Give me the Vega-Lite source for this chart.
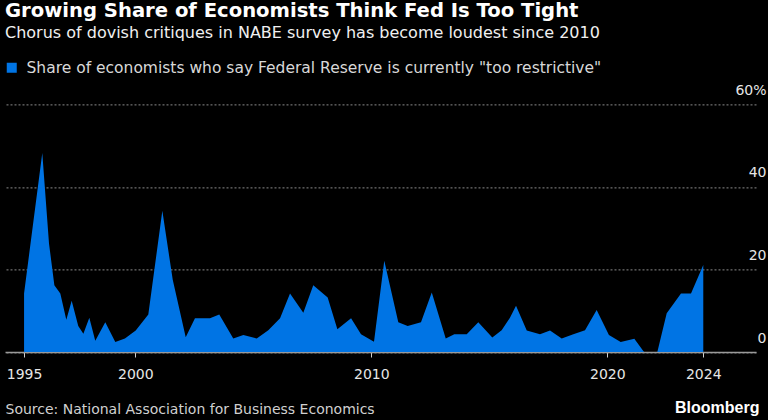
{
  "$schema": "https://vega.github.io/schema/vega-lite/v6.json",
  "autosize": {"type": "none"},
  "width": 751,
  "height": 247.6,
  "padding": {"left": 5, "right": 12, "top": 104.4, "bottom": 68},
  "background": "#000000",
  "config": {"view": {"stroke": null}, "font": "DejaVu Sans"},
  "title": {
    "text": "Growing Share of Economists Think Fed Is Too Tight",
    "subtitle": "Chorus of dovish critiques in NABE survey has become loudest since 2010",
    "anchor": "start",
    "frame": "group",
    "font": "DejaVu Sans",
    "fontSize": 19.6,
    "fontWeight": "bold",
    "color": "#ffffff",
    "subtitleFont": "DejaVu Sans",
    "subtitleFontSize": 16,
    "subtitleColor": "#f0f0f0",
    "subtitlePadding": 3,
    "offset": 18
  },
  "data": {
    "values": [
      {"date": "1995-04-15", "share": 14.2},
      {"date": "1996-01-22", "share": 48.2},
      {"date": "1996-05-05", "share": 26.3},
      {"date": "1996-07-27", "share": 16.2},
      {"date": "1996-10-27", "share": 14.2},
      {"date": "1997-01-28", "share": 7.8},
      {"date": "1997-04-21", "share": 12.4},
      {"date": "1997-08-01", "share": 6.3},
      {"date": "1997-10-19", "share": 4.4},
      {"date": "1998-01-19", "share": 8.3},
      {"date": "1998-04-21", "share": 2.7},
      {"date": "1998-09-23", "share": 7.2},
      {"date": "1999-02-25", "share": 2.4},
      {"date": "1999-07-24", "share": 3.3},
      {"date": "2000-01-07", "share": 5.2},
      {"date": "2000-07-20", "share": 9.1},
      {"date": "2001-02-22", "share": 34.2},
      {"date": "2001-08-02", "share": 17.5},
      {"date": "2002-02-19", "share": 3.6},
      {"date": "2002-07-12", "share": 8.2},
      {"date": "2003-03-01", "share": 8.2},
      {"date": "2003-07-23", "share": 9.1},
      {"date": "2004-02-25", "share": 3.3},
      {"date": "2004-07-30", "share": 4.1},
      {"date": "2005-02-22", "share": 3.3},
      {"date": "2005-08-20", "share": 5.3},
      {"date": "2006-02-18", "share": 8.2},
      {"date": "2006-07-22", "share": 14.2},
      {"date": "2007-02-13", "share": 9.5},
      {"date": "2007-07-17", "share": 16.2},
      {"date": "2008-02-25", "share": 13.2},
      {"date": "2008-07-24", "share": 5.5},
      {"date": "2009-02-21", "share": 8.2},
      {"date": "2009-07-25", "share": 4.3},
      {"date": "2010-02-11", "share": 2.5},
      {"date": "2010-07-20", "share": 22.1},
      {"date": "2011-02-22", "share": 7.2},
      {"date": "2011-07-17", "share": 6.3},
      {"date": "2012-02-08", "share": 7.2},
      {"date": "2012-07-24", "share": 14.4},
      {"date": "2013-02-25", "share": 3.3},
      {"date": "2013-07-08", "share": 4.3},
      {"date": "2014-01-16", "share": 4.3},
      {"date": "2014-07-14", "share": 7.2},
      {"date": "2015-02-16", "share": 3.5},
      {"date": "2015-07-10", "share": 5.3},
      {"date": "2015-11-16", "share": 8.3},
      {"date": "2016-02-18", "share": 11.2},
      {"date": "2016-08-02", "share": 5.2},
      {"date": "2017-02-23", "share": 4.3},
      {"date": "2017-07-28", "share": 5.2},
      {"date": "2018-01-25", "share": 3.3},
      {"date": "2018-07-24", "share": 4.3},
      {"date": "2019-01-21", "share": 5.3},
      {"date": "2019-07-20", "share": 10.2},
      {"date": "2020-01-26", "share": 4.1},
      {"date": "2020-07-26", "share": 2.4},
      {"date": "2021-02-22", "share": 3.2},
      {"date": "2021-07-22", "share": 0},
      {"date": "2022-02-13", "share": 0},
      {"date": "2022-07-08", "share": 9.4},
      {"date": "2023-02-14", "share": 14.2},
      {"date": "2023-07-19", "share": 14.2},
      {"date": "2024-01-25", "share": 21.1}
    ]
  },
  "mark": {"type": "area", "interpolate": "linear"},
  "encoding": {
    "x": {
      "field": "date",
      "type": "temporal",
      "scale": {"domain": [{"year": 1994, "month": 6, "date": 24}, {"year": 2026, "month": 4, "date": 20}]},
      "axis": {
        "values": [
          {"year": 1995, "month": 4, "date": 15},
          {"year": 2000, "month": 1, "date": 1},
          {"year": 2010, "month": 1, "date": 1},
          {"year": 2020, "month": 1, "date": 1},
          {"year": 2024, "month": 1, "date": 25}
        ],
        "format": "%Y",
        "grid": false,
        "domainColor": "#9a9a9a",
        "domainWidth": 1.5,
        "tickColor": "#cfcfcf",
        "tickSize": 5,
        "labelFont": "DejaVu Sans",
        "labelFontSize": 14,
        "labelColor": "#e6e6e6",
        "labelPadding": 10,
        "labelFlush": false,
        "labelOverlap": false,
        "title": "Source: National Association for Business Economics",
        "titleFont": "DejaVu Sans",
        "titleFontSize": 14,
        "titleFontWeight": "normal",
        "titleColor": "#d0d0d0",
        "titleAnchor": "start",
        "titleAlign": "left",
        "titleBaseline": "alphabetic",
        "titleX": 0,
        "titleY": 61
      }
    },
    "y": {
      "field": "share",
      "type": "quantitative",
      "scale": {"domain": [0, 60], "nice": false},
      "axis": {
        "orient": "right",
        "values": [0, 20, 40, 60],
        "labelExpr": "datum.value == 60 ? '60%' : datum.label + '\u2007'",
        "domain": false,
        "ticks": false,
        "grid": true,
        "gridColor": "#8a8a8a",
        "gridDash": [2, 2],
        "gridWidth": 1,
        "labelFont": "DejaVu Sans",
        "labelFontSize": 14,
        "labelColor": "#e6e6e6",
        "labelAlign": "right",
        "labelBaseline": "alphabetic",
        "labelOffset": -10,
        "labelPadding": 10,
        "title": "Bloomberg",
        "titleFont": "Liberation Sans",
        "titleFontSize": 16,
        "titleFontWeight": "bold",
        "titleColor": "#ffffff",
        "titleAngle": 0,
        "titleAlign": "right",
        "titleBaseline": "alphabetic",
        "titleX": 3,
        "titleY": 307.6
      }
    },
    "fill": {
      "datum": "Share of economists who say Federal Reserve is currently \"too restrictive\"",
      "type": "nominal",
      "scale": {"range": ["#0074E4"]},
      "legend": {
        "title": null,
        "orient": "none",
        "legendX": -1,
        "legendY": -44.4,
        "padding": 0,
        "symbolType": "square",
        "symbolSize": 100,
        "symbolStrokeWidth": 0,
        "symbolOpacity": 1,
        "labelFont": "DejaVu Sans",
        "labelFontSize": 15.5,
        "labelColor": "#d8d8d8",
        "labelOffset": 7,
        "labelLimit": 700
      }
    }
  }
}
